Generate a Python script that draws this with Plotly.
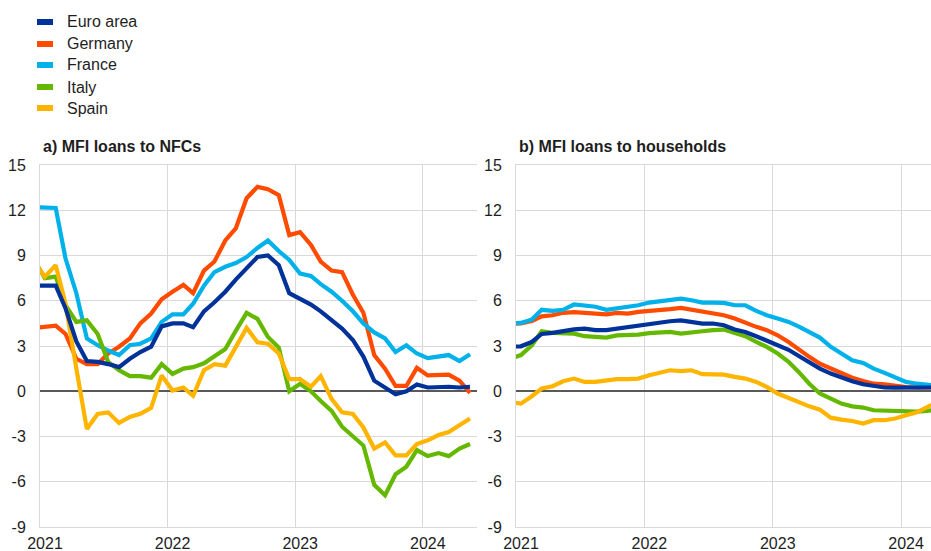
import plotly.graph_objects as go
import pandas as pd

# ---------------- data ----------------
# monthly observations, Dec 2020 .. May 2024 (plotted mid-month)
months = pd.date_range("2020-12-01", periods=42, freq="MS") + pd.Timedelta(days=14)
months_hh = months[:41]

series_names = ["Euro area", "Germany", "France", "Italy", "Spain"]
series_colors = ["#003299", "#FF4B00", "#00B1EA", "#65B800", "#FFB400"]

# a) MFI loans to NFCs (annual % changes)
nfc_euro_area = [7.0, 7.0, 7.0, 5.5, 3.3, 2.0, 1.95, 1.8, 1.6, 2.15, 2.6, 2.95, 4.3, 4.5, 4.5,
                 4.25, 5.3, 5.9, 6.6, 7.4, 8.2, 8.9, 9.0, 8.35, 6.5, 6.1, 5.75, 5.3, 4.7, 4.15,
                 3.4, 2.3, 0.7, 0.2, -0.2, 0.0, 0.45, 0.25, 0.3, 0.3, 0.25, 0.3]
nfc_germany = [4.2, 4.3, 4.35, 3.8, 2.15, 1.8, 1.8, 2.5, 2.95, 3.5, 4.5, 5.15, 6.1, 6.6, 7.05,
               6.5, 8.0, 8.6, 10.0, 10.8, 12.8, 13.55, 13.4, 13.0, 10.35, 10.55, 9.7, 8.6, 8.0,
               7.9, 6.4, 5.2, 2.4, 1.5, 0.35, 0.35, 1.55, 1.05, 1.05, 1.1, 0.7, -0.1]
nfc_france = [12.2, 12.2, 12.15, 8.8, 6.5, 3.5, 3.05, 2.7, 2.4, 3.05, 3.15, 3.5, 4.6, 5.1, 5.1,
              5.8, 7.0, 7.9, 8.25, 8.5, 8.9, 9.5, 10.0, 9.3, 8.7, 7.8, 7.65, 7.1, 6.6, 6.0,
              5.3, 4.5, 3.9, 3.5, 2.6, 3.05, 2.5, 2.2, 2.3, 2.4, 2.0, 2.45]
nfc_italy = [8.7, 7.5, 7.6, 5.7, 4.6, 4.7, 3.8, 1.95, 1.4, 1.0, 1.0, 0.9, 1.8, 1.15, 1.5,
             1.6, 1.85, 2.3, 2.8, 4.0, 5.2, 4.8, 3.6, 2.9, 0.0, 0.5, 0.0, -0.65, -1.3, -2.35,
             -3.0, -3.6, -6.2, -6.9, -5.5, -5.0, -3.9, -4.3, -4.1, -4.3, -3.8, -3.5]
nfc_spain = [8.6, 7.6, 8.35, 5.8, 1.5, -2.5, -1.5, -1.4, -2.1, -1.7, -1.5, -1.1, 1.05, 0.05, 0.25,
             -0.3, 1.4, 1.8, 1.7, 2.95, 4.2, 3.25, 3.15, 2.5, 0.8, 0.8, 0.3, 1.0, -0.5, -1.4,
             -1.5, -2.4, -3.8, -3.4, -4.25, -4.25, -3.5, -3.25, -2.9, -2.7, -2.25, -1.8]

# b) MFI loans to households (annual % changes)
hh_euro_area = [2.95, 2.98, 3.27, 3.8, 3.87, 4.0, 4.1, 4.15, 4.05, 4.05, 4.15, 4.22, 4.38, 4.47,
                4.55, 4.64, 4.7, 4.6, 4.49, 4.49, 4.38, 4.09, 3.93, 3.65, 3.38, 3.05, 2.75, 2.35,
                1.88, 1.5, 1.17, 0.9, 0.66, 0.46, 0.33, 0.25, 0.24, 0.24, 0.24, 0.24, 0.25]
hh_germany = [4.45, 4.5, 4.66, 4.97, 5.04, 5.2, 5.24, 5.2, 5.15, 5.1, 5.2, 5.15, 5.26, 5.3,
              5.37, 5.44, 5.53, 5.42, 5.26, 5.15, 5.04, 4.82, 4.53, 4.27, 4.05, 3.71, 3.27, 2.76,
              2.28, 1.83, 1.5, 1.17, 0.9, 0.68, 0.5, 0.46, 0.35, 0.28, 0.25, 0.25, 0.25]
hh_france = [4.5, 4.53, 4.75, 5.4, 5.33, 5.4, 5.75, 5.7, 5.6, 5.4, 5.5, 5.55, 5.7, 5.88,
             5.95, 6.03, 6.14, 6.03, 5.88, 5.88, 5.86, 5.7, 5.7, 5.33, 5.04, 4.82, 4.6, 4.3,
             3.93, 3.56, 2.94, 2.5, 2.06, 1.88, 1.5, 1.22, 0.95, 0.62, 0.5, 0.4, 0.35]
hh_italy = [2.15, 2.4, 3.05, 3.98, 3.87, 3.82, 3.82, 3.65, 3.6, 3.56, 3.7, 3.7, 3.76, 3.85,
            3.87, 3.93, 3.82, 3.93, 3.98, 4.05, 4.09, 3.87, 3.65, 3.27, 2.94, 2.5, 1.95, 1.3,
            0.5, -0.15, -0.49, -0.82, -1.0, -1.08, -1.26, -1.3, -1.33, -1.33, -1.35, -1.3, -1.2]
hh_spain = [-0.7, -0.82, -0.33, 0.18, 0.33, 0.66, 0.84, 0.62, 0.62, 0.73, 0.8, 0.8, 0.84, 1.06,
            1.22, 1.39, 1.33, 1.39, 1.13, 1.13, 1.1, 0.95, 0.84, 0.62, 0.29, -0.15, -0.45, -0.75,
            -1.0, -1.22, -1.75, -1.88, -1.97, -2.14, -1.92, -1.92, -1.81, -1.59, -1.4, -1.05, -0.7]

panel_titles = ["a) MFI loans to NFCs", "b) MFI loans to households"]
x_tick_vals = ["2021-01-01", "2022-01-01", "2023-01-01", "2024-01-01"]
x_tick_text = ["2021", "2022", "2023", "2024"]
y_tick_vals = [-9, -6, -3, 0, 3, 6, 9, 12, 15]
y_tick_text = ["-9", "-6", "-3", "0", "3", "6", "9", "12", "15"]

# ---------------- figure ----------------
W, H = 931, 551
FONT = "Liberation Sans, Arial, sans-serif"
TXT = "#1e1e1e"
GRID = "#D9D9D9"

nfc = [nfc_euro_area, nfc_germany, nfc_france, nfc_italy, nfc_spain]
hh = [hh_euro_area, hh_germany, hh_france, hh_italy, hh_spain]

fig = go.Figure()
draw_order = [1, 2, 3, 4, 0]  # euro area on top
for k in draw_order:
    fig.add_trace(go.Scatter(x=months, y=nfc[k], mode="lines", name=series_names[k],
                             line=dict(color=series_colors[k], width=4.2),
                             showlegend=False, xaxis="x", yaxis="y"))
for k in draw_order:
    fig.add_trace(go.Scatter(x=months_hh, y=hh[k], mode="lines", name=series_names[k],
                             line=dict(color=series_colors[k], width=4.2),
                             showlegend=False, xaxis="x2", yaxis="y2"))

def px_x(p):
    return p / W

def px_y(p):
    return (H - p) / H

xcommon = dict(type="date", tickvals=x_tick_vals, ticktext=x_tick_text, showgrid=True,
               gridcolor=GRID, gridwidth=1, showline=True, mirror=True, linecolor=GRID,
               linewidth=1, ticks="", tickfont=dict(family=FONT, size=16, color=TXT),
               ticklabelstandoff=2, ticklabelshift=5, automargin=False, fixedrange=True)
ycommon = dict(range=[-9, 15], tickvals=y_tick_vals, ticktext=y_tick_text, showgrid=True,
               gridcolor=GRID, gridwidth=1, showline=True, linecolor=GRID, linewidth=1,
               zeroline=True, zerolinecolor="#595959", zerolinewidth=2, ticks="",
               tickfont=dict(family=FONT, size=16, color=TXT), ticklabelstandoff=10,
               automargin=False, fixedrange=True, domain=[px_y(527), px_y(165)])

fig.update_layout(
    width=W, height=H,
    margin=dict(l=0, r=0, t=0, b=0),
    paper_bgcolor="white", plot_bgcolor="white",
    showlegend=False,
    xaxis=dict(xcommon, domain=[px_x(40), px_x(477)], range=["2021-01-01", "2024-06-04"], anchor="y"),
    yaxis=dict(ycommon, anchor="x"),
    xaxis2=dict(xcommon, domain=[px_x(516), 1.0], range=["2021-01-01", "2024-03-26"], anchor="y2"),
    yaxis2=dict(ycommon, anchor="x2"),
)

# panel titles
for title, xp in zip(panel_titles, [41, 517]):
    fig.add_annotation(text="<b>" + title + "</b>", xref="paper", yref="paper",
                       x=px_x(xp), y=px_y(147), xanchor="left", yanchor="middle",
                       showarrow=False, font=dict(family=FONT, size=16, color=TXT))

# legend (manual, top-left)
row_y = [22, 44, 65, 87, 108]
for name, color, yc in zip(series_names, series_colors, row_y):
    fig.add_shape(type="rect", xref="paper", yref="paper",
                  x0=px_x(37), x1=px_x(53), y0=px_y(yc + 3), y1=px_y(yc - 3),
                  fillcolor=color, line=dict(width=0))
    fig.add_annotation(text=name, xref="paper", yref="paper", x=px_x(65), y=px_y(yc),
                       xanchor="left", yanchor="middle", showarrow=False,
                       font=dict(family=FONT, size=16, color=TXT))

fig.write_html("out.html", config={"displayModeBar": False},
               post_script="document.body.style.margin='0';document.body.style.overflow='hidden';")
